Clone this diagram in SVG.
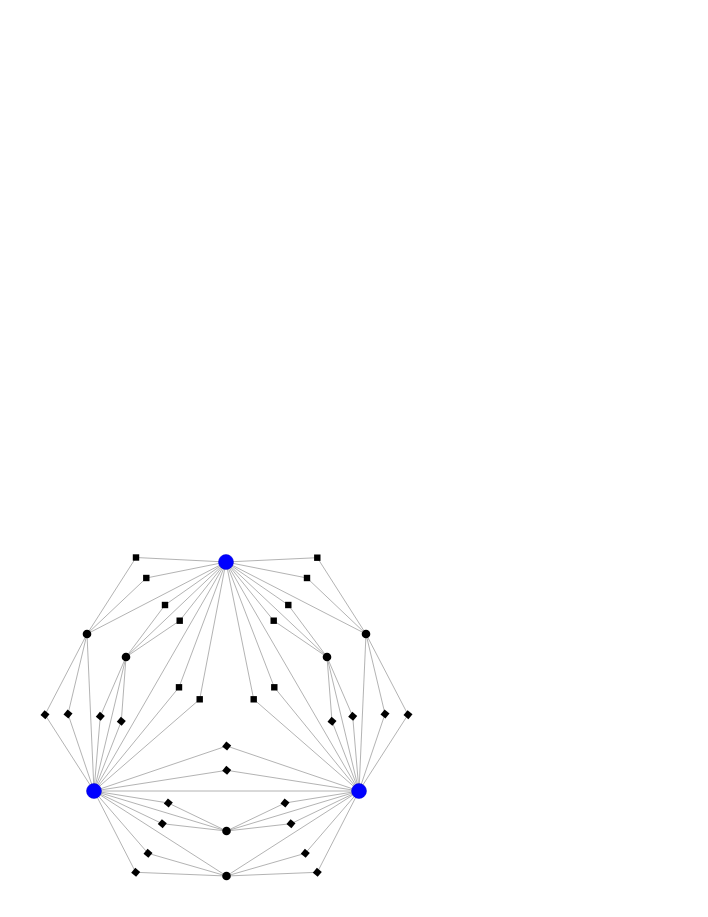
<svg xmlns="http://www.w3.org/2000/svg" width="708" height="917" viewBox="0 0 708 917">
<style>
.e{stroke:#a0a0a0;stroke-width:0.8;fill:none}
.hub{fill:#0000ff;stroke:#0000cc;stroke-width:0.5}
.dot{fill:#000}
.sq{fill:#000}
</style>
<defs>
<rect id="box" x="-3.2" y="-3.2" width="6.4" height="6.4"/>
</defs>
<rect width="708" height="917" fill="#fff"/>
<g id="edges" class="e">
<!-- direct hub edges -->
<line x1="226" y1="562" x2="94" y2="791"/>
<line x1="226" y1="562" x2="359" y2="791"/>
<line x1="94" y1="791" x2="359" y2="791"/>
<line x1="226" y1="562" x2="87" y2="634"/>
<line x1="226" y1="562" x2="126" y2="657"/>
<line x1="94" y1="791" x2="87" y2="634"/>
<line x1="94" y1="791" x2="126" y2="657"/>
<line x1="226" y1="562" x2="366" y2="634"/>
<line x1="226" y1="562" x2="327" y2="657"/>
<line x1="359" y1="791" x2="366" y2="634"/>
<line x1="359" y1="791" x2="327" y2="657"/>
<line x1="94" y1="791" x2="226.5" y2="831"/>
<line x1="94" y1="791" x2="226.5" y2="876"/>
<line x1="359" y1="791" x2="226.5" y2="831"/>
<line x1="359" y1="791" x2="226.5" y2="876"/>
<!-- T - cTL1 via squares -->
<polyline points="226,562 136,557.5 87,634"/>
<polyline points="226,562 146.3,578 87,634"/>
<polyline points="226,562 165,605 126,657"/>
<polyline points="226,562 179.7,620.7 126,657"/>
<polyline points="226,562 179,687.3 94,791"/>
<polyline points="226,562 199.7,699.3 94,791"/>
<polyline points="226,562 317.3,557.7 366,634"/>
<polyline points="226,562 307,578 366,634"/>
<polyline points="226,562 288.3,605 327,657"/>
<polyline points="226,562 273.7,620.7 327,657"/>
<polyline points="226,562 274.3,687.3 359,791"/>
<polyline points="226,562 253.7,699.3 359,791"/>
<!-- diamonds -->
<polyline points="87,634 45,714.7 94,791"/>
<polyline points="87,634 68,714 94,791"/>
<polyline points="126,657 100.3,716.3 94,791"/>
<polyline points="126,657 121.3,721.3 94,791"/>
<polyline points="366,634 408,714.7 359,791"/>
<polyline points="366,634 385,714 359,791"/>
<polyline points="327,657 352.7,716.3 359,791"/>
<polyline points="327,657 332,721.3 359,791"/>
<polyline points="94,791 226.7,746 359,791"/>
<polyline points="94,791 226.7,770.3 359,791"/>
<polyline points="94,791 168.3,803 226.5,831"/>
<polyline points="94,791 162.3,823.7 226.5,831"/>
<polyline points="359,791 285,803 226.5,831"/>
<polyline points="359,791 291,823.7 226.5,831"/>
<polyline points="94,791 148,853.3 226.5,876"/>
<polyline points="94,791 135.7,872.3 226.5,876"/>
<polyline points="359,791 305.3,853.3 226.5,876"/>
<polyline points="359,791 317.3,872.3 226.5,876"/>
</g>
<!-- square nodes -->
<g id="s1" class="sq"><use href="#box" x="136" y="557.5"/></g>
<g id="s2" class="sq"><use href="#box" x="146.3" y="578"/></g>
<g id="s3" class="sq"><use href="#box" x="165" y="605"/></g>
<g id="s4" class="sq"><use href="#box" x="179.7" y="620.7"/></g>
<g id="s5" class="sq"><use href="#box" x="179" y="687.3"/></g>
<g id="s6" class="sq"><use href="#box" x="199.7" y="699.3"/></g>
<g id="s7" class="sq"><use href="#box" x="317.3" y="557.7"/></g>
<g id="s8" class="sq"><use href="#box" x="307" y="578"/></g>
<g id="s9" class="sq"><use href="#box" x="288.3" y="605"/></g>
<g id="s10" class="sq"><use href="#box" x="273.7" y="620.7"/></g>
<g id="s11" class="sq"><use href="#box" x="274.3" y="687.3"/></g>
<g id="s12" class="sq"><use href="#box" x="253.7" y="699.3"/></g>
<!-- diamond nodes -->
<g id="d1" class="sq" transform="translate(45,714.7) rotate(40)"><use href="#box"/></g>
<g id="d2" class="sq" transform="translate(68,714) rotate(40)"><use href="#box"/></g>
<g id="d3" class="sq" transform="translate(100.3,716.3) rotate(40)"><use href="#box"/></g>
<g id="d4" class="sq" transform="translate(121.3,721.3) rotate(40)"><use href="#box"/></g>
<g id="d5" class="sq" transform="translate(408,714.7) rotate(40)"><use href="#box"/></g>
<g id="d6" class="sq" transform="translate(385,714) rotate(40)"><use href="#box"/></g>
<g id="d7" class="sq" transform="translate(352.7,716.3) rotate(40)"><use href="#box"/></g>
<g id="d8" class="sq" transform="translate(332,721.3) rotate(40)"><use href="#box"/></g>
<g id="d9" class="sq" transform="translate(226.7,746) rotate(40)"><use href="#box"/></g>
<g id="d10" class="sq" transform="translate(226.7,770.3) rotate(40)"><use href="#box"/></g>
<g id="d11" class="sq" transform="translate(168.3,803) rotate(40)"><use href="#box"/></g>
<g id="d12" class="sq" transform="translate(162.3,823.7) rotate(40)"><use href="#box"/></g>
<g id="d13" class="sq" transform="translate(285,803) rotate(40)"><use href="#box"/></g>
<g id="d14" class="sq" transform="translate(291,823.7) rotate(40)"><use href="#box"/></g>
<g id="d15" class="sq" transform="translate(148,853.3) rotate(40)"><use href="#box"/></g>
<g id="d16" class="sq" transform="translate(135.7,872.3) rotate(40)"><use href="#box"/></g>
<g id="d17" class="sq" transform="translate(305.3,853.3) rotate(40)"><use href="#box"/></g>
<g id="d18" class="sq" transform="translate(317.3,872.3) rotate(40)"><use href="#box"/></g>
<!-- black circle nodes -->
<g id="c1"><circle class="dot" cx="87" cy="634" r="4.3"/></g>
<g id="c2"><circle class="dot" cx="126" cy="657" r="4.3"/></g>
<g id="c3"><circle class="dot" cx="366" cy="634" r="4.3"/></g>
<g id="c4"><circle class="dot" cx="327" cy="657" r="4.3"/></g>
<g id="c5"><circle class="dot" cx="226.5" cy="831" r="4.3"/></g>
<g id="c6"><circle class="dot" cx="226.5" cy="876" r="4.3"/></g>
<!-- hub nodes -->
<g id="hubT"><circle class="hub" cx="226" cy="562" r="7.5"/></g>
<g id="hubL"><circle class="hub" cx="94" cy="791" r="7.5"/></g>
<g id="hubR"><circle class="hub" cx="359" cy="791" r="7.5"/></g>
</svg>
